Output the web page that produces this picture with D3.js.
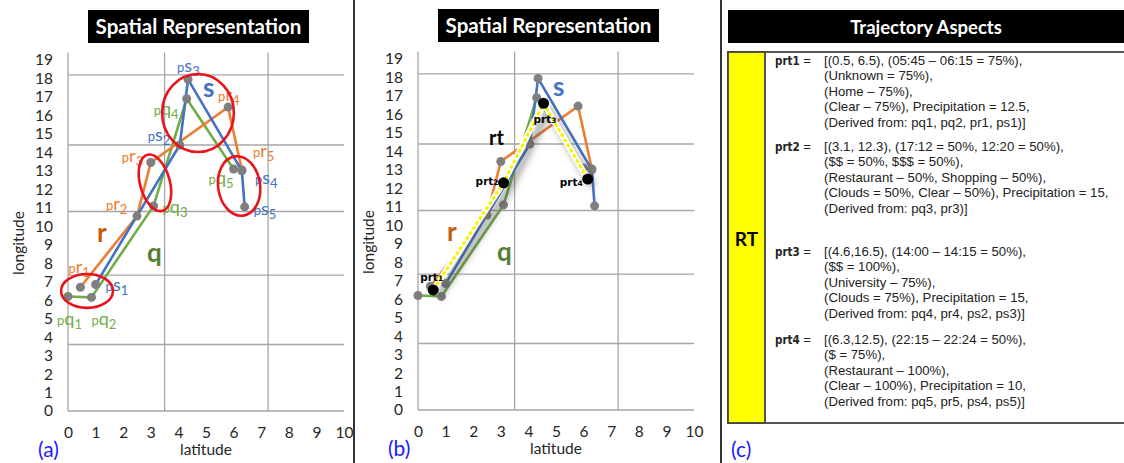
<!DOCTYPE html>
<html>
<head>
<meta charset="utf-8">
<script src="https://cdn.jsdelivr.net/npm/d3@7"></script>
<style>
body { margin: 0; background: #fff; }
svg { display: block; }
</style>
</head>
<body>
<svg id="chart"></svg>
<script>
var width = 1124, height = 463;

// trajectory points, [latitude, longitude]
var qPts = [[0, 6.2], [0.85, 6.15], [3.1, 11.1], [4.3, 16.9], [6.0, 13.1]];
var rPts = [[0.45, 6.7], [2.5, 10.55], [3.0, 13.45], [5.8, 16.45], [6.3, 13.05]];
var sPts = [[1.0, 6.85], [4.05, 14.4], [4.35, 17.95], [6.3, 13.0], [6.4, 11.05]];
// representative trajectory rt
var rtPts = [[0.55, 6.5], [3.1, 12.3], [4.55, 16.6], [6.15, 12.5]];

var xTicks = d3.range(0, 11);
var yTicks = d3.range(0, 20);
var gridLat = [3.5, 7.25];
var gridLon = [3.6, 7.35, 10.8, 14.4, 18.2];

// red ellipses [lat, lon, rLat, rLon, rotation]
var ellipses = [[0.69, 6.5, 0.94, 0.92, 0], [3.15, 12.35, 0.54, 1.57, -15],
                [4.71, 16.13, 1.3, 2.11, 0], [6.2, 12.18, 0.76, 1.62, -8]];

var aspectNames = ["prt1", "prt2", "prt3", "prt4"];
var aspectText = [
  ["[(0.5, 6.5), (05:45 – 06:15 = 75%),", "(Unknown = 75%),", "(Home – 75%),",
   "(Clear – 75%), Precipitation = 12.5,", "(Derived from: pq1, pq2, pr1, ps1)]"],
  ["[(3.1, 12.3), (17:12 = 50%, 12:20 = 50%),", "($$ = 50%, $$$ = 50%),",
   "(Restaurant – 50%, Shopping – 50%),", "(Clouds = 50%, Clear – 50%), Precipitation = 15,",
   "(Derived from: pq3, pr3)]"],
  ["[(4.6,16.5), (14:00 – 14:15 = 50%),", "($$ = 100%),", "(University – 75%),",
   "(Clouds = 75%), Precipitation = 15,", "(Derived from: pq4, pr4, ps2, ps3)]"],
  ["[(6.3,12.5), (22:15 – 22:24 = 50%),", "($ = 75%),", "(Restaurant – 100%),",
   "(Clear – 100%), Precipitation = 10,", "(Derived from: pq5, pr5, ps4, ps5)]"]
];

var blue = "#4472C4", orange = "#ED7D31", green = "#70AD47", gray = "#a6a6a6";
var font = "Lato, 'Open Sans', sans-serif";

var svg = d3.select("#chart").attr("width", width).attr("height", height)
  .style("font-family", font);

var defs = svg.append("defs");
defs.append("filter").attr("id", "shadow")
  .attr("x", "-20%").attr("y", "-20%").attr("width", "140%").attr("height", "140%")
  .append("feDropShadow")
    .attr("dx", 5).attr("dy", 7).attr("stdDeviation", 3.5)
    .attr("flood-color", "#444").attr("flood-opacity", 0.55);

var x = d3.scaleLinear().domain([0, 10]).range([68, 344]);
var y = d3.scaleLinear().domain([0, 19]).range([411, 60]);
var line = d3.line().x(function(d) { return x(d[0]); }).y(function(d) { return y(d[1]); });

// separators
svg.selectAll("line.sep").data([354, 721]).enter().append("line")
  .attr("x1", function(d) { return d; }).attr("x2", function(d) { return d; })
  .attr("y1", 0).attr("y2", height)
  .attr("stroke", "#333").attr("stroke-width", 2);

function titleBox(g, x0, x1, txt, size) {
  g.append("rect").attr("x", x0).attr("y", 10).attr("width", x1 - x0).attr("height", 33)
    .attr("fill", "#000");
  g.append("text").attr("x", (x0 + x1) / 2).attr("y", 34)
    .attr("text-anchor", "middle").attr("fill", "#fff")
    .style("font-size", size).style("font-weight", "bold").text(txt);
}

function pLabel(g, pt, dx, dy, letter, idx, color) {
  var t = g.append("text")
    .attr("x", x(pt[0]) + dx).attr("y", y(pt[1]) + dy)
    .attr("fill", color);
  t.append("tspan").style("font-size", "13px").text("p");
  t.append("tspan").style("font-size", "18px").text(letter);
  t.append("tspan").style("font-size", "13px").attr("dy", 4).text(idx);
}

function drawPanel(g, tag) {
  titleBox(g, 88, 309, "Spatial Representation", "20.5px");

  // grid
  g.selectAll("line.gx").data(gridLat).enter().append("line")
    .attr("x1", function(d) { return x(d); }).attr("x2", function(d) { return x(d); })
    .attr("y1", y(19.4)).attr("y2", y(0))
    .attr("stroke", gray).attr("stroke-width", 1.3);
  g.selectAll("line.gy").data(gridLon).enter().append("line")
    .attr("x1", x(0)).attr("x2", x(10))
    .attr("y1", function(d) { return y(d); }).attr("y2", function(d) { return y(d); })
    .attr("stroke", gray).attr("stroke-width", 1.3);
  g.append("line").attr("x1", x(0)).attr("x2", x(0)).attr("y1", y(19.4)).attr("y2", y(0))
    .attr("stroke", gray).attr("stroke-width", 1.3);
  g.append("line").attr("x1", x(0)).attr("x2", x(10)).attr("y1", y(0)).attr("y2", y(0))
    .attr("stroke", gray).attr("stroke-width", 1.3);

  // axes (labels only)
  var ya = g.append("g").attr("transform", "translate(" + x(0) + ",0)")
    .call(d3.axisLeft(y).tickValues(yTicks).tickSize(0).tickPadding(15));
  var xa = g.append("g").attr("transform", "translate(0," + y(0) + ")")
    .call(d3.axisBottom(x).tickValues(xTicks).tickSize(0).tickPadding(16));
  [ya, xa].forEach(function(a) {
    a.select(".domain").remove();
    a.selectAll("text").attr("fill", "#262626")
      .style("font-size", "15.5px").style("font-family", font);
  });

  g.append("text").attr("x", 206).attr("y", 455).attr("text-anchor", "middle")
    .attr("fill", "#262626").style("font-size", "15.5px").text("latitude");
  g.append("text").attr("transform", "translate(24,243) rotate(-90)")
    .attr("text-anchor", "middle").attr("fill", "#262626")
    .style("font-size", "15.5px").text("longitude");
  g.append("text").attr("x", 38).attr("y", 457).attr("fill", "#1a1aff")
    .style("font-size", "21px").text(tag);

  // trajectories
  [[qPts, green], [rPts, orange], [sPts, blue]].forEach(function(d) {
    g.append("path").datum(d[0]).attr("d", line)
      .attr("fill", "none").attr("stroke", d[1]).attr("stroke-width", 2.6);
  });
  g.selectAll("circle.pt").data(qPts.concat(rPts, sPts)).enter().append("circle")
    .attr("cx", function(d) { return x(d[0]); }).attr("cy", function(d) { return y(d[1]); })
    .attr("r", 4.5).attr("fill", "#7f7f7f");

  g.append("text").attr("x", x(0) + 135).attr("y", 97).attr("fill", blue)
    .style("font-size", "26px").style("font-weight", "bold").text("s");
  g.append("text").attr("x", x(0) + 29).attr("y", 242).attr("fill", "#C55A11")
    .style("font-size", "26px").style("font-weight", "bold").text("r");
  g.append("text").attr("x", x(0) + 79).attr("y", 262).attr("fill", "#548235")
    .style("font-size", "26px").style("font-weight", "bold").text("q");
}

// panel (a)
var ga = svg.append("g");
drawPanel(ga, "(a)");

var qOff = [[-11, 29], [0, 28], [9, 7], [-33, 16], [-25, 15]];
var rOff = [[-12, -14], [-31, -6], [-29, -1], [-10, -6], [11, -13]];
var sOff = [[10, 7], [-32, -4], [-11, -7], [13, 13], [9, 8]];
qPts.forEach(function(d, i) { pLabel(ga, d, qOff[i][0], qOff[i][1], "q", i + 1, green); });
rPts.forEach(function(d, i) { pLabel(ga, d, rOff[i][0], rOff[i][1], "r", i + 1, orange); });
sPts.forEach(function(d, i) { pLabel(ga, d, sOff[i][0], sOff[i][1], "s", i + 1, blue); });

ga.selectAll("ellipse").data(ellipses).enter().append("ellipse")
  .attr("transform", function(d) {
    return "translate(" + x(d[0]) + "," + y(d[1]) + ") rotate(" + d[4] + ")";
  })
  .attr("rx", function(d) { return x(d[2]) - x(0); })
  .attr("ry", function(d) { return y(0) - y(d[3]); })
  .attr("fill", "none").attr("stroke", "#e8141b").attr("stroke-width", 2.6);

// panel (b)
var gb = svg.append("g").attr("transform", "translate(350,-1)");
drawPanel(gb, "(b)");

var rtg = gb.append("g").attr("filter", "url(#shadow)");
rtg.append("path").datum(rtPts).attr("d", line)
  .attr("fill", "none").attr("stroke", "#fff").attr("stroke-width", 6);
rtg.append("path").datum(rtPts).attr("d", line)
  .attr("fill", "none").attr("stroke", "#f5f500").attr("stroke-width", 3)
  .attr("stroke-dasharray", "4,2");

gb.selectAll("circle.rt").data(rtPts).enter().append("circle")
  .attr("cx", function(d) { return x(d[0]); }).attr("cy", function(d) { return y(d[1]); })
  .attr("r", 5.5).attr("fill", "#000");

gb.append("text").attr("x", x(0) + 71).attr("y", 146).attr("fill", "#000")
  .style("font-size", "20px").style("font-weight", "bold").text("rt");

var rtOff = [[-13, -9, "start"], [-5, 2, "end"], [-10, 20, "start"], [-5, 7, "end"]];
rtPts.forEach(function(d, i) {
  var t = gb.append("text").attr("x", x(d[0]) + rtOff[i][0]).attr("y", y(d[1]) + rtOff[i][1])
    .attr("text-anchor", rtOff[i][2]).attr("fill", "#000")
    .style("font-family", "'DejaVu Sans', sans-serif").style("font-weight", "bold");
  t.append("tspan").style("font-size", "10.5px").text("prt");
  t.append("tspan").style("font-size", "7.5px").text(i + 1);
});

// panel (c)
var gc = svg.append("g");
gc.append("rect").attr("x", 728).attr("y", 10).attr("width", width - 728).attr("height", 33)
  .attr("fill", "#000");
gc.append("text").attr("x", 926).attr("y", 34).attr("text-anchor", "middle").attr("fill", "#fff")
  .style("font-size", "18.5px").style("font-weight", "bold").text("Trajectory Aspects");

gc.append("rect").attr("x", 728).attr("y", 52).attr("width", width - 728 + 5).attr("height", 371)
  .attr("fill", "#fff").attr("stroke", "#444").attr("stroke-width", 1.8);
gc.append("rect").attr("x", 728).attr("y", 52).attr("width", 37).attr("height", 371)
  .attr("fill", "#ffff00").attr("stroke", "#444").attr("stroke-width", 1.8);
gc.append("text").attr("x", 746.5).attr("y", 246).attr("text-anchor", "middle")
  .style("font-size", "19px").style("font-weight", "bold").attr("fill", "#000").text("RT");

var blockY = [65, 151, 256, 344];
aspectNames.forEach(function(name, i) {
  var lab = gc.append("text").attr("x", 775).attr("y", blockY[i]).attr("fill", "#222");
  lab.append("tspan").style("font-family", "'DejaVu Sans Condensed', 'DejaVu Sans', sans-serif")
    .style("font-weight", "bold").style("font-size", "11.5px").text(name);
  lab.append("tspan").style("font-family", "'Liberation Sans', sans-serif")
    .style("font-size", "13px").text(" =");
  gc.selectAll("text.l" + i).data(aspectText[i]).enter().append("text")
    .attr("x", 824).attr("y", function(d, j) { return blockY[i] + j * 15.4; })
    .attr("fill", "#222").style("font-family", "'Liberation Sans', sans-serif")
    .style("font-size", "13.2px").text(function(d) { return d; });
});

gc.append("text").attr("x", 731).attr("y", 457).attr("fill", "#1a1aff")
  .style("font-size", "21px").text("(c)");
</script>
</body>
</html>
